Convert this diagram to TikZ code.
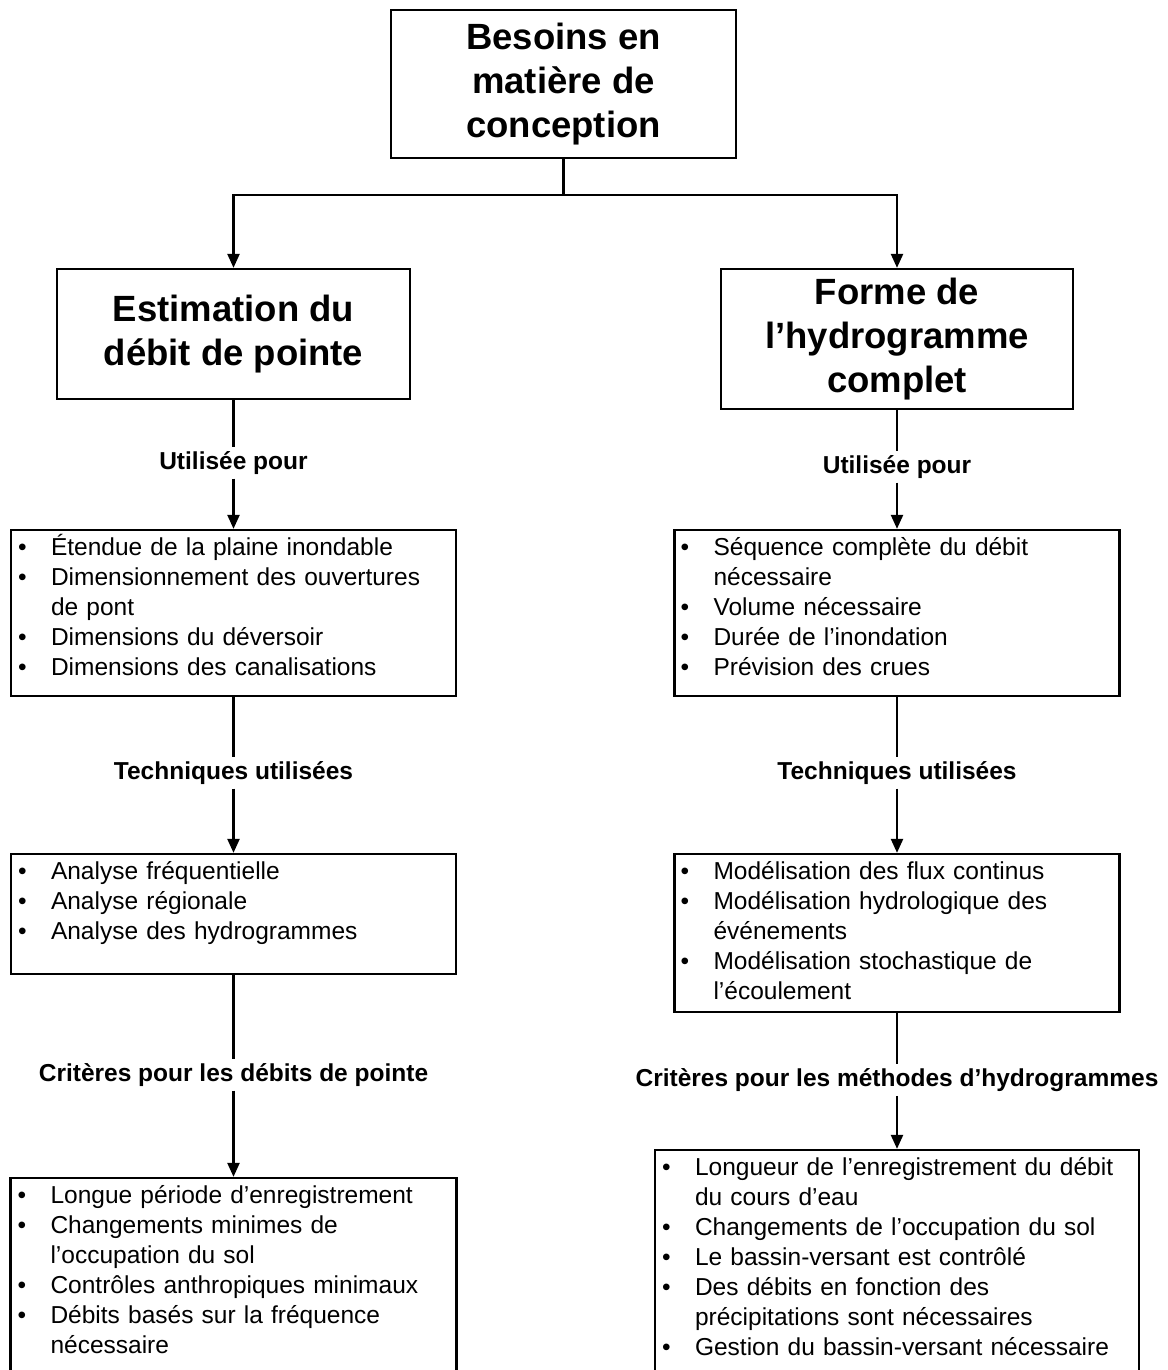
\documentclass[tikz,border=0pt]{standalone}
\usepackage{fontspec}
\setmainfont{Liberation Sans}
\usetikzlibrary{arrows.meta}
% bulleted entry with a hanging indent for wrapped lines
\newcommand{\bitem}[1]{\noindent\hangindent=33pt\hangafter=1\makebox[33pt][l]{\textbullet}#1\par}
\newcommand{\firstline}{\rule{0pt}{23pt}}
\begin{document}
\begin{tikzpicture}[x=1pt,y=-1pt,
  box/.style={draw, line width=2.3pt, inner sep=0pt},
  title/.style={box, align=center, font=\fontsize{36.5}{44}\selectfont\bfseries},
  listtext/.style={anchor=north west, inner sep=0pt, text width=520pt, align=left,
                   font=\fontsize{24.5}{30}\selectfont},
  lab/.style={inner xsep=0pt, inner ysep=4pt, font=\fontsize{24.5}{29}\selectfont\bfseries},
  link/.style={line width=2.3pt},
  arr/.style={link, -{Triangle[length=14pt,width=12pt]}}]
\useasboundingbox (0,0) rectangle (1167,1370);
\clip (0,0) rectangle (1167,1370);
\fill[white] (0,0) rectangle (1167,1370);

% top-level box
\node[title, minimum width=345pt, minimum height=148pt] (top) at (563.5,84)
  {Besoins en\\matière de\\conception};

% second level
\node[title, minimum width=353pt, minimum height=130pt] (est) at (233.5,334)
  {Estimation du\\débit de pointe};
\node[title, minimum width=352pt, minimum height=140pt] (forme) at (897,339)
  {Forme de\\l’hydrogramme\\complet};

\coordinate (split) at (563.5,195);
\draw[link] (top.south) -- (split);
\draw[arr] (split) -| (est.north);
\draw[arr] (split) -| (forme.north);

% list boxes, left column
\node[box, minimum width=445pt, minimum height=166pt] (L1) at (233.5,613) {};
\node[box, minimum width=445pt, minimum height=120pt] (L2) at (233.5,914) {};
\node[box, minimum width=446pt, minimum height=222pt] (L3) at (233.5,1289) {};

% list boxes, right column
\node[box, minimum width=445pt, minimum height=166pt] (R1) at (897,613) {};
\node[box, minimum width=445pt, minimum height=158pt] (R2) at (897,933) {};
\node[box, minimum width=484pt, minimum height=250pt] (R3) at (897,1275) {};

% list contents
\node[listtext] (L1t) at ([shift={(8pt,-3pt)}]L1.north west) {%
  \bitem{\firstline Étendue de la plaine inondable}
  \bitem{Dimensionnement des ouvertures\newline de pont}
  \bitem{Dimensions du déversoir}
  \bitem{Dimensions des canalisations}};
\node[listtext] (L2t) at ([shift={(8pt,-3pt)}]L2.north west) {%
  \bitem{\firstline Analyse fréquentielle}
  \bitem{Analyse régionale}
  \bitem{Analyse des hydrogrammes}};
\node[listtext] (L3t) at ([shift={(8pt,-3pt)}]L3.north west) {%
  \bitem{\firstline Longue période d’enregistrement}
  \bitem{Changements minimes de\newline l’occupation du sol}
  \bitem{Contrôles anthropiques minimaux}
  \bitem{Débits basés sur la fréquence\newline nécessaire}};
\node[listtext] (R1t) at ([shift={(7pt,-3pt)}]R1.north west) {%
  \bitem{\firstline Séquence complète du débit\newline nécessaire}
  \bitem{Volume nécessaire}
  \bitem{Durée de l’inondation}
  \bitem{Prévision des crues}};
\node[listtext] (R2t) at ([shift={(7pt,-3pt)}]R2.north west) {%
  \bitem{\firstline Modélisation des flux continus}
  \bitem{Modélisation hydrologique des\newline événements}
  \bitem{Modélisation stochastique de\newline l’écoulement}};
\node[listtext] (R3t) at ([shift={(8pt,-3pt)}]R3.north west) {%
  \bitem{\firstline Longueur de l’enregistrement du débit\newline du cours d’eau}
  \bitem{Changements de l’occupation du sol}
  \bitem{Le bassin-versant est contrôlé}
  \bitem{Des débits en fonction des\newline précipitations sont nécessaires}
  \bitem{Gestion du bassin-versant nécessaire}};

% connector labels
\node[lab] (uL) at (233.5,463) {Utilisée pour};
\node[lab] (tL) at (233.5,773) {Techniques utilisées};
\node[lab] (cL) at (233.5,1075) {Critères pour les débits de pointe};
\node[lab] (uR) at (897,467) {Utilisée pour};
\node[lab] (tR) at (897,773) {Techniques utilisées};
\node[lab] (cR) at (897,1080) {Critères pour les méthodes d’hydrogrammes};

% left chain
\draw[link] (est.south) -- (uL.north);
\draw[arr] (uL.south) -- (L1.north);
\draw[link] (L1.south) -- (tL.north);
\draw[arr] (tL.south) -- (L2.north);
\draw[link] (L2.south) -- (cL.north);
\draw[arr] (cL.south) -- (L3.north);

% right chain
\draw[link] (forme.south) -- (uR.north);
\draw[arr] (uR.south) -- (R1.north);
\draw[link] (R1.south) -- (tR.north);
\draw[arr] (tR.south) -- (R2.north);
\draw[link] (R2.south) -- (cR.north);
\draw[arr] (cR.south) -- (R3.north);
\end{tikzpicture}
\end{document}
